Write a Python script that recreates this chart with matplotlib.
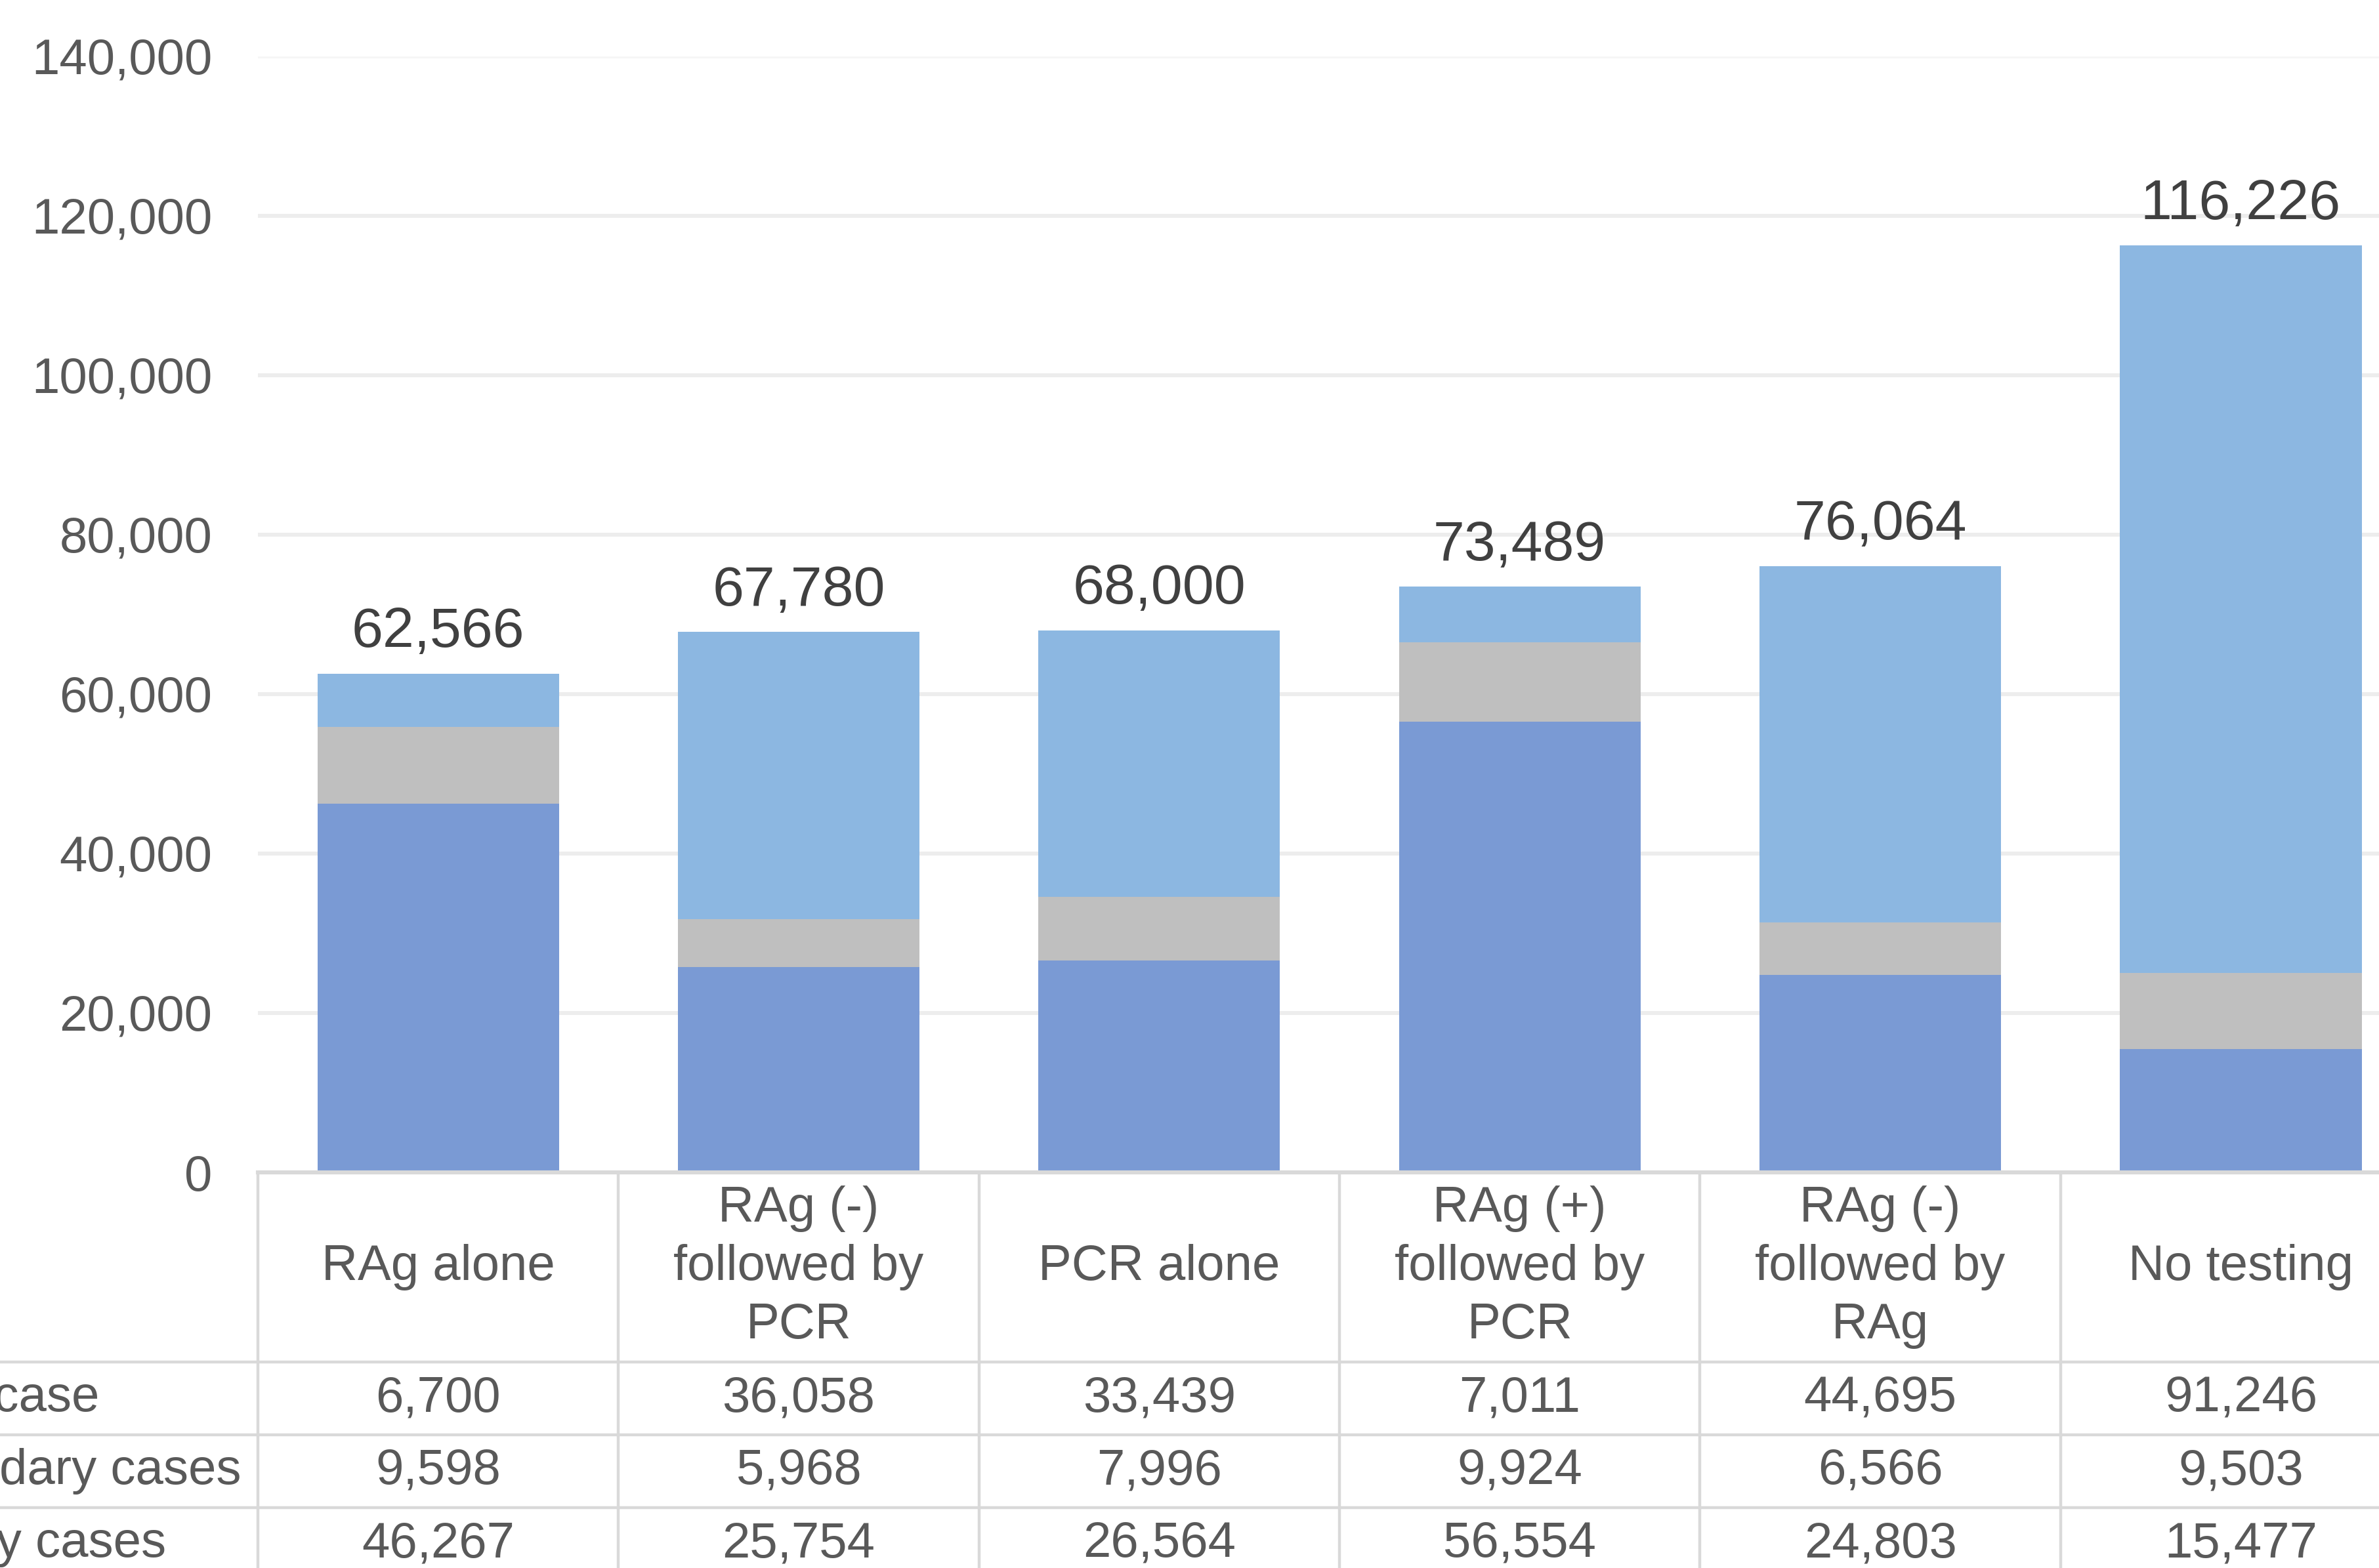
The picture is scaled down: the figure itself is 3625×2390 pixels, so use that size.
import matplotlib
matplotlib.use("Agg")
import matplotlib.pyplot as plt
import numpy as np

plt.rcParams['font.family'] = ['Liberation Sans', 'DejaVu Sans']

categories = ['RAg alone', 'RAg (-)\nfollowed by\nPCR', 'PCR alone',
              'RAg (+)\nfollowed by\nPCR', 'RAg (-)\nfollowed by\nRAg', 'No testing']
row_names = ['Index case', 'Secondary cases', 'Tertiary cases']
index_case = [6700, 36058, 33439, 7011, 44695, 91246]
secondary = [9598, 5968, 7996, 9924, 6566, 9503]
tertiary = [46267, 25754, 26564, 56554, 24803, 15477]
totals = [62566, 67780, 68000, 73489, 76064, 116226]
yticks = [0, 20000, 40000, 60000, 80000, 100000, 120000, 140000]

c_index = '#8CB7E1'
c_sec = '#BFBFBF'
c_ter = '#7A9AD4'
txt = '#595959'
line_c = '#D9D9D9'

fig = plt.figure(figsize=(18.125, 11.95), dpi=200)

# main plot area (runs past the right edge, like the cropped original)
ax = fig.add_axes([0.1084, 0.2523, 1.0177 - 0.1084, 0.9642 - 0.2523])
x = np.arange(len(categories))
w = 0.67
ter = np.array(tertiary)
sec = np.array(secondary)
ax.bar(x, tertiary, w, color=c_ter, zorder=2)
ax.bar(x, secondary, w, bottom=ter, color=c_sec, zorder=2)
ax.bar(x, index_case, w, bottom=ter + sec, color=c_index, zorder=2)

for i, t in enumerate(totals):
    top = tertiary[i] + secondary[i] + index_case[i]
    ax.annotate(f'{t:,}', (x[i], top), xytext=(0, 8), textcoords='offset points',
                ha='center', va='bottom', fontsize=31, color='#404040')

ax.set_xlim(-0.5, len(categories) - 0.5)
ax.set_ylim(0, 140000)
ax.set_yticks(yticks)
ax.set_yticklabels([f'{v:,}' for v in yticks])
ax.tick_params(axis='y', length=0, pad=25, labelsize=27.4, labelcolor=txt)
ax.tick_params(axis='x', length=0, labelbottom=False)
ax.grid(axis='y', color='#EDEDED', linewidth=2.2, zorder=0)
ax.get_ygridlines()[-1].set_color('#F6F6F6')
for s in ['top', 'right', 'left']:
    ax.spines[s].set_visible(False)
ax.spines['bottom'].set_color(line_c)
ax.spines['bottom'].set_linewidth(2.2)

# data table under the chart
hdr = 125 / 48
nrows = len(row_names)
tab_h = (hdr + nrows) * 111 / 2390
tab = fig.add_axes([0.1084, 0.2523 - tab_h, 1.0177 - 0.1084, tab_h])
tab.set_xlim(-0.5, len(categories) - 0.5)
tab.set_ylim(hdr + nrows, 0)
tab.axis('off')

for k in range(len(categories) + 1):
    tab.plot([k - 0.5, k - 0.5], [0, hdr + nrows], color=line_c, lw=1.6, clip_on=False)
for r in range(nrows):
    yy = hdr + r
    tab.plot([-3, len(categories) - 0.5], [yy, yy], color=line_c, lw=1.6, clip_on=False)

for i, c in enumerate(categories):
    tab.text(x[i], hdr / 2, c, ha='center', va='center', fontsize=27.4, color=txt,
             linespacing=1.32)

rows = [index_case, secondary, tertiary]
for r, (name, vals) in enumerate(zip(row_names, rows)):
    yy = hdr + r + 0.5
    tab.text(-1.61, yy, name, ha='left', va='center', fontsize=27.4, color=txt, clip_on=False)
    for i, v in enumerate(vals):
        tab.text(x[i], yy, f'{v:,}', ha='center', va='center', fontsize=27.4, color=txt)

fig.savefig('out.png', dpi=200)
